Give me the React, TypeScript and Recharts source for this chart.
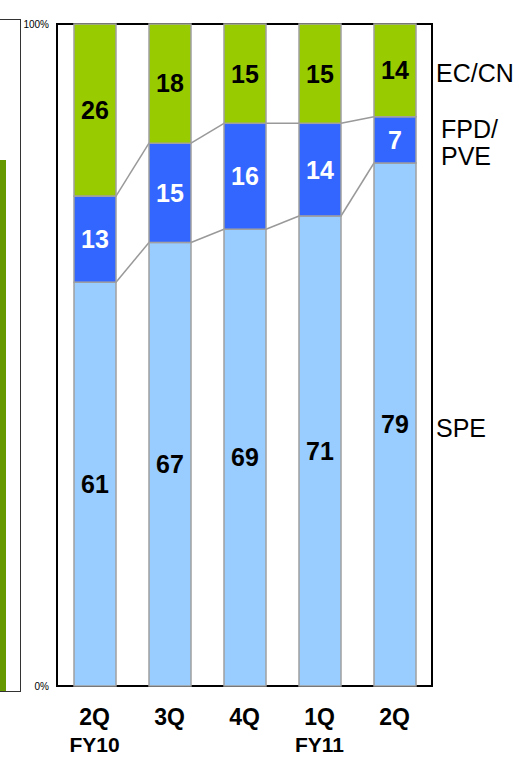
import React from "react";
import {
  Bar,
  BarChart,
  LabelList,
  ReferenceArea,
  XAxis,
  YAxis
} from "recharts";

// share of sales by segment, per quarter (%)
const quarters = ["2Q", "3Q", "4Q", "1Q", "2Q"];
const fiscalYears = ["FY10", "", "", "FY11", ""];
const spe = [61, 67, 69, 71, 79];
const fpd = [13, 15, 16, 14, 7];
const ec = [26, 18, 15, 15, 14];

const data = quarters.map((q, i) => ({
  key: `${q}-${i}`,
  quarter: q,
  fy: fiscalYears[i],
  spe: spe[i],
  fpd: fpd[i],
  ec: ec[i]
}));

const W = 519;
const H = 757;
const MARGIN = { top: 24, right: 87, bottom: 0, left: 0 };
const Y_AXIS_W = 57;
const BAND = (W - MARGIN.left - MARGIN.right - Y_AXIS_W) / data.length;

const FONT = "'Liberation Sans', Arial, sans-serif";

type Row = (typeof data)[number];

// bar segment with a connector to the same boundary on the next bar
const makeShape =
  (below: (d: Row) => number, cum: (d: Row) => number) => (props: any) => {
    const { x, y, width, height, index, payload, fill } = props;
    const value = cum(payload) - below(payload);
    const k = value ? height / value : 0;
    const base = y + height + k * below(payload);
    const next = data[index + 1];
    return (
      <g>
        <rect
          x={x}
          y={y}
          width={width}
          height={height}
          fill={fill}
          stroke="#a0a0a0"
          strokeWidth={1.5}
        />
        {next && (
          <line
            x1={x + width}
            y1={y}
            x2={x + BAND}
            y2={base - k * cum(next)}
            stroke="#999"
            strokeWidth={1.5}
          />
        )}
      </g>
    );
  };

const speShape = makeShape(() => 0, (d) => d.spe);
const fpdShape = makeShape((d) => d.spe, (d) => d.spe + d.fpd);

const QuarterTick = (props: any) => {
  const { x, y, payload } = props;
  const row = data[payload.index];
  return (
    <g>
      <text
        x={x}
        y={y + 31}
        textAnchor="middle"
        fontSize={23}
        fontWeight="bold"
        fill="#000"
      >
        {row ? row.quarter : ""}
      </text>
      {row && row.fy && (
        <text
          x={x}
          y={y + 58}
          textAnchor="middle"
          fontSize={21}
          fontWeight="bold"
          fill="#000"
        >
          {row.fy}
        </text>
      )}
    </g>
  );
};

const sideLabel = (lines: string[], dx: number) => (props: any) => {
  const { x, y, width, height, index } = props;
  if (index !== data.length - 1) return null;
  const cy = Number(y) + Number(height) / 2;
  const lh = 27;
  const start = cy - ((lines.length - 1) * lh) / 2 + 3;
  return (
    <g>
      {lines.map((t, i) => (
        <text
          key={t}
          x={Number(x) + Number(width) + dx}
          y={start + i * lh}
          dominantBaseline="central"
          fontSize={25}
          fill="#000"
        >
          {t}
        </text>
      ))}
    </g>
  );
};

const valueStyle = { fontSize: 25, fontWeight: "bold" as const };

export default function App() {
  return (
    <div
      style={{
        position: "absolute",
        left: 0,
        top: 0,
        width: W,
        height: H,
        background: "#fff",
        fontFamily: FONT,
        overflow: "hidden"
      }}
    >
      {/* edge of the neighbouring panel */}
      <div
        style={{
          position: "absolute",
          left: -10,
          top: 19,
          width: 29,
          height: 671,
          border: "1.5px solid #333"
        }}
      />
      <div
        style={{
          position: "absolute",
          left: 0,
          top: 160,
          width: 6,
          height: 531,
          background: "#669900"
        }}
      />
      <BarChart
        width={W}
        height={H}
        data={data}
        margin={MARGIN}
        barSize={42}
        style={{ position: "absolute", left: 0, top: 0 }}
      >
        <XAxis
          dataKey="key"
          height={71}
          axisLine={false}
          tickLine={false}
          interval={0}
          tick={<QuarterTick />}
        />
        <YAxis
          type="number"
          domain={[0, 100]}
          ticks={[0, 100]}
          width={Y_AXIS_W}
          axisLine={false}
          tickLine={false}
          tickMargin={2}
          tickFormatter={(v) => `${v}%`}
          tick={{ fontSize: 10, fill: "#000" }}
        />
        <Bar
          dataKey="spe"
          stackId="a"
          fill="#99ccff"
          shape={speShape}
          isAnimationActive={false}
        >
          <LabelList
            dataKey="spe"
            position="center"
            fill="#000"
            style={valueStyle}
          />
          <LabelList dataKey="spe" content={sideLabel(["SPE"], 20)} />
        </Bar>
        <Bar
          dataKey="fpd"
          stackId="a"
          fill="#3366ff"
          shape={fpdShape}
          isAnimationActive={false}
        >
          <LabelList
            dataKey="fpd"
            position="center"
            fill="#fff"
            style={valueStyle}
          />
          <LabelList
            dataKey="fpd"
            content={sideLabel(["FPD/", "PVE"], 25)}
          />
        </Bar>
        <Bar
          dataKey="ec"
          stackId="a"
          fill="#99cc00"
          stroke="#a0a0a0"
          strokeWidth={1.5}
          isAnimationActive={false}
        >
          <LabelList
            dataKey="ec"
            position="center"
            fill="#000"
            style={valueStyle}
          />
          <LabelList dataKey="ec" content={sideLabel(["EC/CN"], 20)} />
        </Bar>
        <ReferenceArea
          y1={0}
          y2={100}
          fill="none"
          stroke="#000"
          strokeWidth={2}
          ifOverflow="visible"
        />
      </BarChart>
    </div>
  );
}
